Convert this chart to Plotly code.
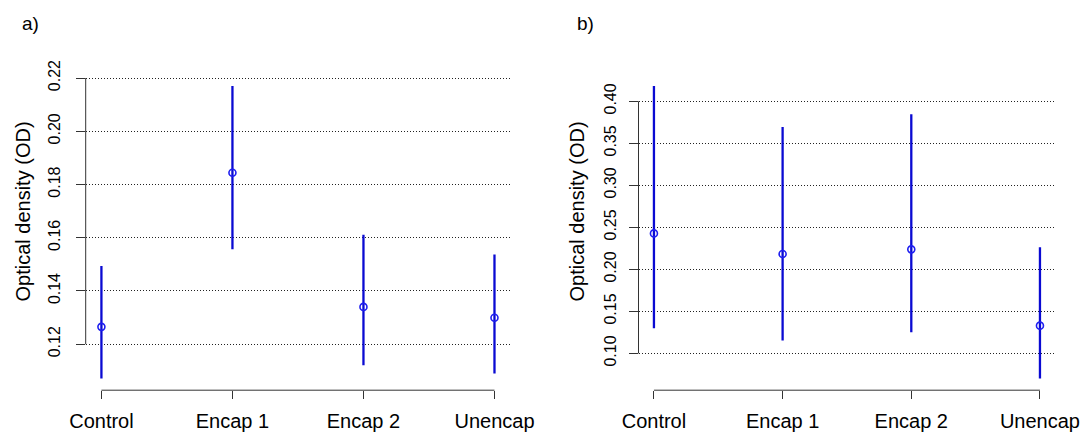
import plotly.graph_objects as go

W, H = 1090, 432

categories = ["Control", "Encap 1", "Encap 2", "Unencap"]
positions = [1, 2, 3, 4]

# Panel a)
a_mean = [0.1265, 0.1844, 0.1340, 0.1299]
a_lower = [0.1071, 0.1557, 0.1121, 0.1090]
a_upper = [0.1494, 0.2170, 0.1611, 0.1537]
a_ticks = [0.12, 0.14, 0.16, 0.18, 0.20, 0.22]

# Panel b)
b_mean = [0.2428, 0.2182, 0.2238, 0.1330]
b_lower = [0.1300, 0.1152, 0.1252, 0.0701]
b_upper = [0.4182, 0.3695, 0.3845, 0.2262]
b_ticks = [0.10, 0.15, 0.20, 0.25, 0.30, 0.35, 0.40]

FONT = "Liberation Sans, Arial, Helvetica, sans-serif"
LINE_BLUE = "#0A0AD2"
MARK_BLUE = "#1E1EF0"
AXIS_COL = "#333333"

fig = go.Figure()


def add_panel(mean, lower, upper, xa, ya):
    xs, ys = [], []
    for p, lo, hi in zip(positions, lower, upper):
        xs += [p, p, None]
        ys += [lo, hi, None]
    fig.add_trace(go.Scatter(x=xs, y=ys, mode="lines", xaxis=xa, yaxis=ya,
                             line=dict(color=LINE_BLUE, width=2.3),
                             showlegend=False, hoverinfo="skip"))
    fig.add_trace(go.Scatter(x=positions, y=mean, mode="markers", xaxis=xa, yaxis=ya,
                             marker=dict(symbol="circle-open", size=7, color=MARK_BLUE,
                                         line=dict(width=1.6, color=MARK_BLUE)),
                             showlegend=False))


add_panel(a_mean, a_lower, a_upper, "x", "y")
add_panel(b_mean, b_lower, b_upper, "x2", "y2")


def yrange(lower, upper):
    lo, hi = min(lower), max(upper)
    pad = 0.04 * (hi - lo)
    return [lo - pad, hi + pad]


xr = [positions[0] - 0.04 * (positions[-1] - positions[0]),
      positions[-1] + 0.04 * (positions[-1] - positions[0])]

ydom = [1 - 390.2 / H, 1 - 74.3 / H]
xdom_a = [85.7 / W, 510.2 / W]
xdom_b = [638.5 / W, 1055.4 / W]

xcommon = dict(range=xr, tickvals=positions, ticktext=categories, showgrid=False,
               zeroline=False, showline=False, ticks="outside", ticklen=8,
               tickwidth=1, tickcolor=AXIS_COL, ticklabelstandoff=5, automargin=False,
               tickfont=dict(family=FONT, size=20, color="black"), fixedrange=True)
ycommon = dict(showgrid=True, gridcolor="#222222", gridwidth=1, griddash="1px,2px",
               zeroline=False, showline=False, ticks="outside", ticklen=9,
               tickwidth=1, tickcolor=AXIS_COL, tickangle=-90, tickformat=".2f",
               automargin=False,
               tickfont=dict(family=FONT, size=16, color="black"), fixedrange=True)

fig.update_layout(
    width=W, height=H,
    margin=dict(l=0, r=0, t=0, b=0, autoexpand=False),
    paper_bgcolor="white", plot_bgcolor="white",
    xaxis=dict(domain=xdom_a, anchor="y", **xcommon),
    yaxis=dict(domain=ydom, anchor="x", range=yrange(a_lower, a_upper),
               tickvals=a_ticks, ticklabelstandoff=9, **ycommon),
    xaxis2=dict(domain=xdom_b, anchor="y2", **xcommon),
    yaxis2=dict(domain=ydom, anchor="x2", range=yrange(b_lower, b_upper),
                tickvals=b_ticks, ticklabelstandoff=6, **ycommon),
    font=dict(family=FONT, color="black"),
)

# R-style axis lines spanning only the tick range
for xa, ya, ticks in (("x", "y", a_ticks), ("x2", "y2", b_ticks)):
    fig.add_shape(type="line", xref=f"{xa} domain", yref=ya, x0=0, x1=0,
                  y0=ticks[0], y1=ticks[-1], line=dict(color=AXIS_COL, width=1))
    fig.add_shape(type="line", xref=xa, yref=f"{ya} domain", x0=positions[0],
                  x1=positions[-1], y0=0, y1=0, line=dict(color=AXIS_COL, width=1))

# Axis titles and panel letters
for cx in (22.5, 576.5):
    fig.add_annotation(text="Optical density (OD)", xref="paper", yref="paper",
                       x=cx / W, y=1 - 212 / H, xanchor="center", yanchor="middle",
                       textangle=-90, showarrow=False,
                       font=dict(family=FONT, size=20, color="black"))
for txt, cx in (("a)", 30.5), ("b)", 585)):
    fig.add_annotation(text=txt, xref="paper", yref="paper", x=cx / W, y=1 - 23.5 / H,
                       xanchor="center", yanchor="middle", showarrow=False,
                       font=dict(family=FONT, size=19, color="black"))

fig.write_html("out.html", config={"displayModeBar": False},
               post_script="document.body.style.margin='0';")
